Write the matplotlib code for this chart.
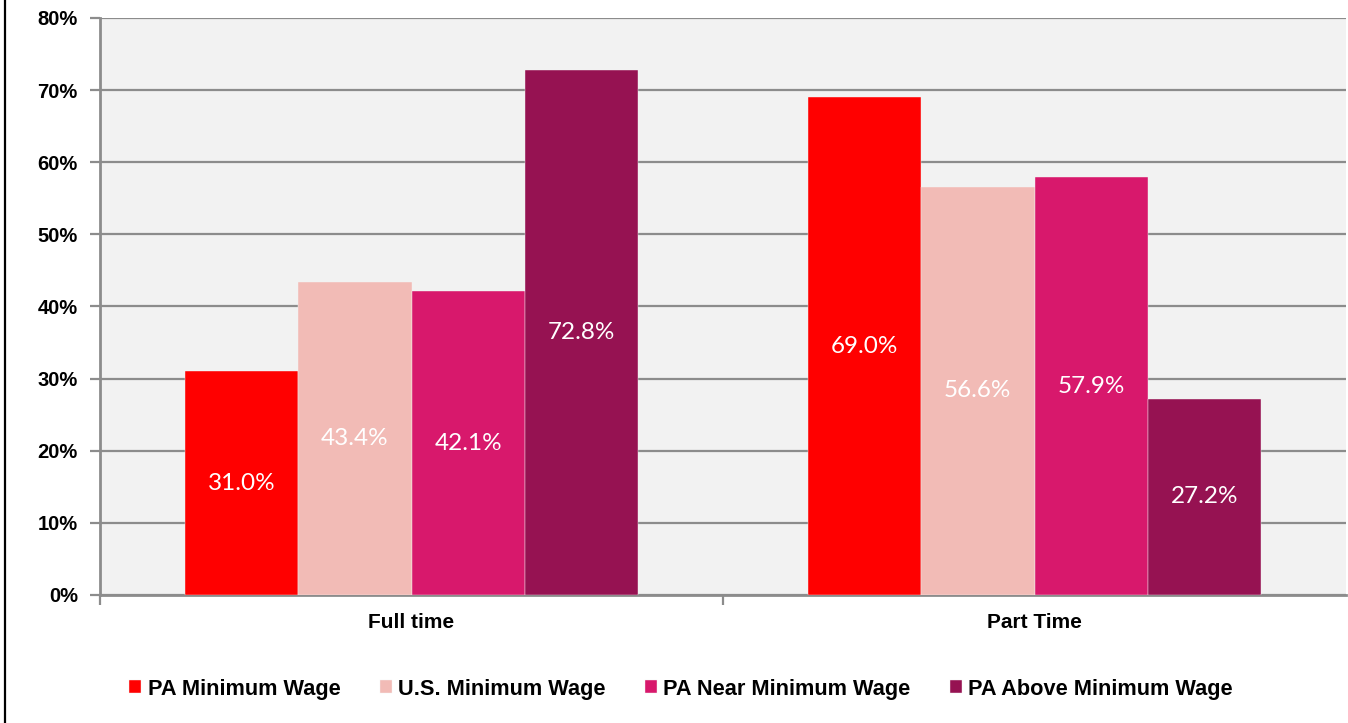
import matplotlib
matplotlib.use("Agg")
import matplotlib.pyplot as plt
import numpy as np
from matplotlib.lines import Line2D

categories = ["Full time", "Part Time"]
series_names = ["PA Minimum Wage", "U.S. Minimum Wage", "PA Near Minimum Wage", "PA Above Minimum Wage"]
values = {
    "PA Minimum Wage": [31.0, 69.0],
    "U.S. Minimum Wage": [43.4, 56.6],
    "PA Near Minimum Wage": [42.1, 57.9],
    "PA Above Minimum Wage": [72.8, 27.2],
}
colors = ["#FF0000", "#F2BBB6", "#D8186C", "#961252"]
yticks = [0, 10, 20, 30, 40, 50, 60, 70, 80]

W, H = 1348, 723
fig = plt.figure(figsize=(W / 100, H / 100), dpi=100)
ax = fig.add_axes([100 / W, 1 - 595 / H, 1246 / W, (595 - 18) / H])
ax.set_facecolor("#F2F2F2")

x = np.arange(len(categories))
bw = 0.182
n = len(series_names)
for i, (name, col) in enumerate(zip(series_names, colors)):
    pos = x + (i - (n - 1) / 2) * bw
    vals = values[name]
    bars = ax.bar(pos, vals, width=bw, color=col, label=name, zorder=3,
                  edgecolor="#F2F2F2", linewidth=0.3)
    for b, v in zip(bars, vals):
        ax.text(b.get_x() + b.get_width() / 2, v / 2, f"{v:.1f}%",
                ha="center", va="center", color="white", fontsize=17.5,
                family="Lato", zorder=4)

ax.set_xlim(-0.5, 1.5)
ax.set_ylim(0, 80)
ax.set_yticks(yticks)
ax.set_yticklabels([f"{t}%" for t in yticks], fontsize=14.5, fontweight="bold",
                   family="Liberation Sans")
ax.yaxis.grid(True, color="#8C8C8C", linewidth=1.6, zorder=1)
ax.set_axisbelow(True)

ax.set_xticks(x)
ax.set_xticklabels(categories, fontsize=15, fontweight="bold", family="Liberation Sans")
ax.tick_params(axis="x", which="major", length=0, pad=13)
ax.set_xticks([-0.5, 0.5], minor=True)
ax.tick_params(axis="x", which="minor", length=7, width=1.6, color="#8C8C8C", direction="out")
ax.tick_params(axis="y", length=7, width=1.6, color="#8C8C8C", pad=9)

for s in ["top", "right"]:
    ax.spines[s].set_visible(False)
for s in ["left", "bottom"]:
    ax.spines[s].set_color("#8C8C8C")
    ax.spines[s].set_linewidth(2)

leg = fig.legend(loc="center", bbox_to_anchor=(681 / W, 1 - 689 / H), ncol=4,
                 frameon=False, prop={"family": "Liberation Sans", "weight": "bold", "size": 15.7},
                 handlelength=0.55, handleheight=0.55, handletextpad=0.3, columnspacing=1.8)

fig.add_artist(Line2D([5 / W, 5 / W], [0, 1], color="black", linewidth=1.6,
                      transform=fig.transFigure))

fig.savefig("out.png", dpi=100)
